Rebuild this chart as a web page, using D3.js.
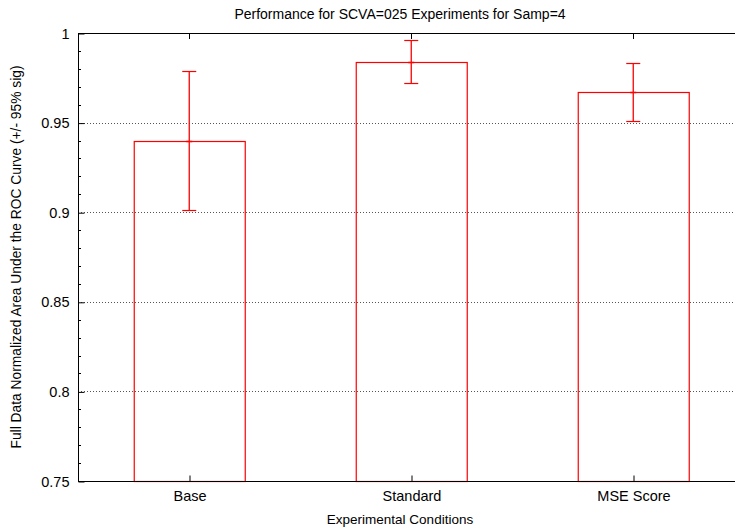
<!DOCTYPE html>
<html>
<head>
<meta charset="utf-8">
<script src="https://cdn.jsdelivr.net/npm/d3@7"></script>
<style>
  html, body { margin: 0; padding: 0; background: #fff; }
  svg { display: block; font-family: "Liberation Sans", Arial, sans-serif; }
</style>
</head>
<body>
<svg id="chart" width="735" height="529"></svg>
<script>
// Experimental conditions and their mean normalized AUC with 95% bounds
const categories = ["Base", "Standard", "MSE Score"];
const means = [0.940, 0.984, 0.967];
const lower = [0.901, 0.972, 0.951];
const upper = [0.979, 0.996, 0.983];
const yTicks = [0.75, 0.8, 0.85, 0.9, 0.95, 1];
const yTickLabels = ["0.75", "0.8", "0.85", "0.9", "0.95", "1"];

const svg = d3.select("#chart");
const margin = { left: 78, top: 33, right: -9, bottom: 48 };
const W = 735, H = 529;
const x0 = margin.left, x1 = W - margin.right;
const y0 = H - margin.bottom, y1 = margin.top;
const RED = "#ff0000";

const x = d3.scaleLinear().domain([0.5, categories.length + 0.5]).range([x0, x1]);
const y = d3.scaleLinear().domain([0.75, 1]).range([y0, y1]);

// dotted grid at interior major ticks
svg.append("g").selectAll("line")
  .data(yTicks.filter(t => t > 0.75 && t < 1))
  .join("line")
  .attr("x1", x0).attr("x2", x1)
  .attr("y1", d => Math.round(y(d)) + 0.5).attr("y2", d => Math.round(y(d)) + 0.5)
  .attr("stroke", "#555").attr("stroke-width", 1)
  .attr("stroke-dasharray", "1,2");

// minor ticks every 0.01 on the left axis, pointing inward
const minor = d3.range(76, 100).map(v => v / 100).filter(v => Math.round(v * 100) % 5 !== 0);
svg.append("g").selectAll("line")
  .data(minor)
  .join("line")
  .attr("x1", x0).attr("x2", x0 + 3)
  .attr("y1", d => Math.round(y(d)) + 0.5).attr("y2", d => Math.round(y(d)) + 0.5)
  .attr("stroke", "#000");

// left axis with major ticks drawn inward
const yAxis = d3.axisLeft(y).tickValues(yTicks)
  .tickFormat((d, i) => yTickLabels[i]).tickSizeInner(-6).tickSizeOuter(0).tickPadding(9);
const gy = svg.append("g").attr("transform", `translate(${x0 + 0.5},0.5)`).call(yAxis);
gy.select(".domain").remove();
gy.selectAll("text").attr("font-size", 14.5).attr("fill", "#000")
  .attr("font-family", "Liberation Sans, Arial, sans-serif");

// bottom axis with category ticks drawn inward
const xAxis = d3.axisBottom(x).tickValues(d3.range(1, categories.length + 1))
  .tickFormat((d) => categories[d - 1]).tickSizeInner(-6).tickSizeOuter(0).tickPadding(9);
const gx = svg.append("g").attr("transform", `translate(0.5,${y0 + 0.5})`).call(xAxis);
gx.select(".domain").remove();
gx.selectAll("text").attr("font-size", 14.5).attr("fill", "#000")
  .attr("font-family", "Liberation Sans, Arial, sans-serif");

// mirrored top ticks
svg.append("g").selectAll("line")
  .data(d3.range(1, categories.length + 1))
  .join("line")
  .attr("x1", d => Math.round(x(d)) + 0.5).attr("x2", d => Math.round(x(d)) + 0.5)
  .attr("y1", y1).attr("y2", y1 + 6)
  .attr("stroke", "#000");

// bars (outlined only)
const barHalf = (x(2) - x(1)) / 4;
svg.append("g").selectAll("rect")
  .data(means)
  .join("rect")
  .attr("x", (d, i) => Math.round(x(i + 1) - barHalf) + 0.25)
  .attr("y", d => Math.round(y(d)) + 0.5)
  .attr("width", Math.round(2 * barHalf))
  .attr("height", d => Math.round(y0) - Math.round(y(d)))
  .attr("fill", "none")
  .attr("stroke", RED).attr("stroke-width", 1.2);

// error bars with caps
const eg = svg.append("g");
const seg = (xa, ya, xb, yb, w) => eg.append("line")
  .attr("x1", xa).attr("y1", ya).attr("x2", xb).attr("y2", yb)
  .attr("stroke", RED).attr("stroke-width", w);
means.forEach((m, i) => {
  const cx = Math.round(x(i + 1)) + 0.25;
  seg(cx, Math.round(y(upper[i])) + 0.5, cx, Math.round(y(lower[i])) + 0.5, 1.3);
  [upper[i], lower[i]].forEach(v => {
    const yy = Math.round(y(v)) + 0.5;
    seg(cx - 7, yy, cx + 7, yy, 1.2);
  });
  const ym = Math.round(y(m)) + 0.5;
  seg(cx - 3, ym, cx + 3, ym, 1.5);
});

// frame
svg.append("rect")
  .attr("x", x0 + 0.5).attr("y", y1 + 0.5)
  .attr("width", x1 - x0).attr("height", y0 - y1)
  .attr("fill", "none").attr("stroke", "#000").attr("stroke-width", 1);

// titles
svg.append("text").attr("x", 400).attr("y", 19)
  .attr("text-anchor", "middle").attr("font-size", 14)
  .text("Performance for SCVA=025 Experiments for Samp=4");
svg.append("text").attr("x", 400).attr("y", 524)
  .attr("text-anchor", "middle").attr("font-size", 13.5)
  .text("Experimental Conditions");
svg.append("text")
  .attr("transform", `translate(21,${(y0 + y1) / 2}) rotate(-90)`)
  .attr("text-anchor", "middle").attr("font-size", 13.8)
  .text("Full Data Normalized Area Under the ROC Curve (+/- 95% sig)");
</script>
</body>
</html>
